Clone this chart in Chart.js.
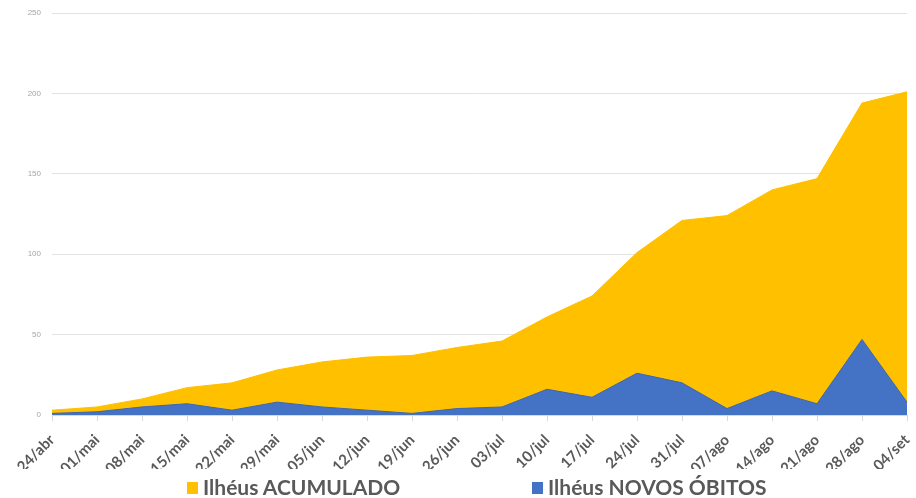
<!DOCTYPE html>
<html>
<head>
<meta charset="utf-8">
<script src="https://cdn.jsdelivr.net/npm/chart.js@4.4.0/dist/chart.umd.min.js"></script>
<style>
  html, body { margin: 0; padding: 0; background: #ffffff; }
  #wrap { position: relative; width: 916px; height: 498px; }
  #c { position: absolute; left: 0; top: 0; }
  .leg { position: absolute; top: 475px; font-family: Lato, "Open Sans", sans-serif; font-weight: 700; font-size: 21px; color: #595959; white-space: nowrap; line-height: 24px; }
  .leg span.box { display: inline-block; width: 11px; height: 12px; margin-right: 5px; vertical-align: 1px; }
</style>
</head>
<body>
<div id="wrap">
  <canvas id="c" width="916" height="498"></canvas>
  <div class="leg" style="left:187px;"><span class="box" style="background:#FFC000"></span>Ilhéus ACUMULADO</div>
  <div class="leg" style="left:532px;"><span class="box" style="background:#4472C4"></span>Ilhéus NOVOS ÓBITOS</div>
</div>
<script>
const categories = ['24/abr','01/mai','08/mai','15/mai','22/mai','29/mai','05/jun','12/jun','19/jun','26/jun','03/jul','10/jul','17/jul','24/jul','31/jul','07/ago','14/ago','21/ago','28/ago','04/set'];
const acumulado = [3, 5, 10, 17, 20, 28, 33, 36, 37, 42, 46, 61, 74, 101, 121, 124, 140, 147, 194, 201];
const novosObitos = [1, 2, 5, 7, 3, 8, 5, 3, 1, 4, 5, 16, 11, 26, 20, 4, 15, 7, 47, 8];
const yTicks = [0, 50, 100, 150, 200, 250];

new Chart(document.getElementById('c'), {
  type: 'line',
  data: {
    labels: categories,
    datasets: [
      {
        label: 'Ilhéus NOVOS ÓBITOS',
        data: novosObitos,
        fill: 'origin',
        backgroundColor: '#4472C4',
        borderColor: '#3d66b0',
        borderWidth: 1,
        pointRadius: 0,
        tension: 0
      },
      {
        label: 'Ilhéus ACUMULADO',
        data: acumulado,
        fill: 'origin',
        backgroundColor: '#FFC000',
        borderColor: '#FFC000',
        borderWidth: 1,
        pointRadius: 0,
        tension: 0
      }
    ]
  },
  options: {
    responsive: false,
    animation: false,
    layout: { padding: { top: 13, right: 9, bottom: 29, left: 0 } },
    plugins: { legend: { display: false }, tooltip: { enabled: false } },
    scales: {
      x: {
        offset: false,
        border: { display: true, color: '#d9d9d9' },
        grid: { drawOnChartArea: false, drawTicks: true, tickLength: 6, color: '#d9d9d9' },
        ticks: {
          autoSkip: false,
          maxRotation: 45,
          minRotation: 45,
          padding: 10,
          color: '#595959',
          font: { family: 'Lato', weight: 'bold', size: 15 }
        },
        afterFit: s => { s.height = 54; s.paddingRight = 0; s.paddingLeft = 0; }
      },
      y: {
        min: 0,
        max: 250,
        afterBuildTicks: s => { s.ticks = yTicks.map(v => ({ value: v })); },
        border: { display: false },
        grid: { color: '#e3e3e3', drawTicks: false },
        ticks: {
          padding: 11,
          color: '#a6a6a6',
          font: { family: 'Liberation Sans', size: 8 }
        },
        afterFit: s => { s.width = 52; s.paddingTop = 0; s.paddingBottom = 0; }
      }
    }
  }
});
</script>
</body>
</html>
